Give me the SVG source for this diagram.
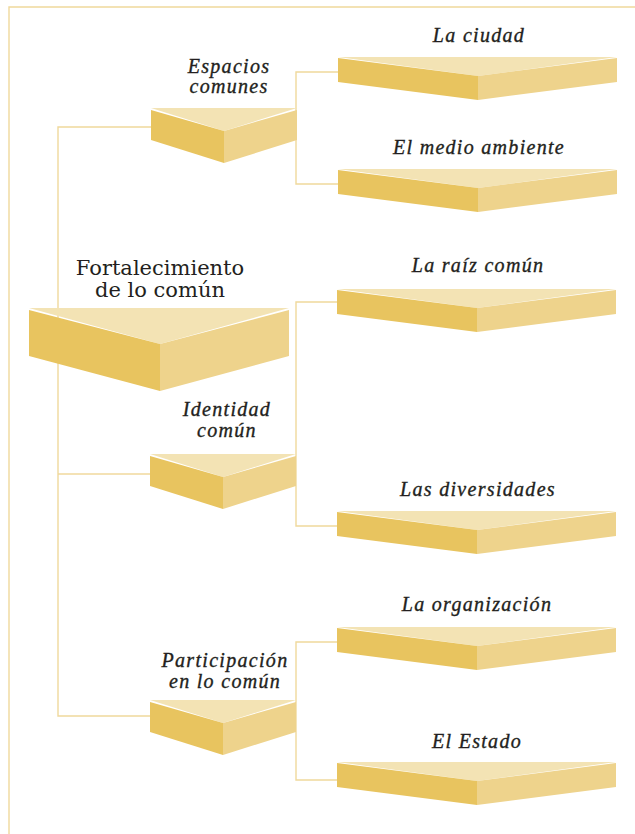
<svg xmlns="http://www.w3.org/2000/svg" width="635" height="834" viewBox="0 0 635 834">
<defs>
<style>
.top{fill:#F3E3B4}
.lf{fill:#E8C45F}
.rt{fill:#EED38C}
.ln{fill:none;stroke:#F0D99C;stroke-width:1.4}
.lbl{font-family:'Liberation Serif','Times New Roman',serif;font-style:italic;font-size:20px;letter-spacing:1.3px;fill:#231F20;stroke:#231F20;stroke-width:0.35;text-anchor:middle}
.main{font-family:'DejaVu Serif',serif;font-size:21px;fill:#231F20;text-anchor:middle}
</style>
<g id="rshape">
<polygon class="top" points="0,0 279,0 140,19"/>
<polygon class="lf" points="0,1 140,19 140,43 0,25"/>
<polygon class="rt" points="140,19 279,1 279,25 140,43"/>
</g>
<g id="mshape">
<polygon class="top" points="0,0 146,0 73,23"/>
<polygon class="lf" points="0,2 73,23 73,55 0,32"/>
<polygon class="rt" points="73,23 146,2 146,32 73,55"/>
</g>
</defs>
<rect width="635" height="834" fill="#FFFFFF"/>
<g id="frame">
<path class="ln" d="M9,834 V7 H635"/>
</g>
<g id="connectors">
<path class="ln" d="M151,127 H58 V716 H150"/>
<path class="ln" d="M58,474 H150"/>
<path class="ln" d="M338,72 H296 V184 H338"/>
<path class="ln" d="M337,302 H296 V526 H337"/>
<path class="ln" d="M337,642 H296 V780 H337"/>
</g>
<g id="main">
<polygon class="top" points="29,308 289,308 160,344"/>
<polygon class="lf" points="29,310 160,344 160,391 29,356"/>
<polygon class="rt" points="160,344 289,310 289,356 160,391"/>
<text class="main" x="160" y="275">Fortalecimiento</text>
<text class="main" x="160" y="297">de lo común</text>
</g>
<g id="espacios">
<use href="#mshape" x="151" y="108"/>
<text class="lbl" x="229" y="73">Espacios</text>
<text class="lbl" x="229" y="93">comunes</text>
</g>
<g id="identidad">
<use href="#mshape" x="150" y="454"/>
<text class="lbl" x="227" y="416">Identidad</text>
<text class="lbl" x="227" y="437">común</text>
</g>
<g id="participacion">
<use href="#mshape" x="150" y="700"/>
<text class="lbl" x="225" y="667">Participación</text>
<text class="lbl" x="225" y="688">en lo común</text>
</g>
<g id="ciudad">
<use href="#rshape" x="338" y="57"/>
<text class="lbl" x="479" y="42">La ciudad</text>
</g>
<g id="medio">
<use href="#rshape" x="338" y="169"/>
<text class="lbl" x="479" y="154">El medio ambiente</text>
</g>
<g id="raiz">
<use href="#rshape" x="337" y="289"/>
<text class="lbl" x="478" y="272">La raíz común</text>
</g>
<g id="diversidades">
<use href="#rshape" x="337" y="511"/>
<text class="lbl" x="478" y="496">Las diversidades</text>
</g>
<g id="organizacion">
<use href="#rshape" x="337" y="627"/>
<text class="lbl" x="477" y="611">La organización</text>
</g>
<g id="estado">
<use href="#rshape" x="337" y="762"/>
<text class="lbl" x="477" y="748">El Estado</text>
</g>
</svg>
